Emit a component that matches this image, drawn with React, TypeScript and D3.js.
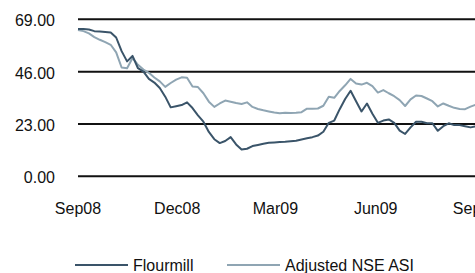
import * as d3 from 'd3'

// dates every 5 days from 1 Sep 2008
const dates: string[] = [
  '2008-09-01', '2008-09-06', '2008-09-11', '2008-09-16', '2008-09-21', '2008-09-26',
  '2008-10-01', '2008-10-06', '2008-10-11', '2008-10-16', '2008-10-21', '2008-10-26', '2008-10-31',
  '2008-11-05', '2008-11-10', '2008-11-15', '2008-11-20', '2008-11-25', '2008-11-30',
  '2008-12-05', '2008-12-10', '2008-12-15', '2008-12-20', '2008-12-25', '2008-12-30',
  '2009-01-04', '2009-01-09', '2009-01-14', '2009-01-19', '2009-01-24', '2009-01-29',
  '2009-02-03', '2009-02-08', '2009-02-13', '2009-02-18', '2009-02-23', '2009-02-28',
  '2009-03-05', '2009-03-10', '2009-03-15', '2009-03-20', '2009-03-25', '2009-03-30',
  '2009-04-04', '2009-04-09', '2009-04-14', '2009-04-19', '2009-04-24', '2009-04-29',
  '2009-05-04', '2009-05-09', '2009-05-14', '2009-05-19', '2009-05-24', '2009-05-29',
  '2009-06-03', '2009-06-08', '2009-06-13', '2009-06-18', '2009-06-23', '2009-06-28',
  '2009-07-03', '2009-07-08', '2009-07-13', '2009-07-18', '2009-07-23', '2009-07-28',
  '2009-08-02', '2009-08-07', '2009-08-12', '2009-08-17', '2009-08-22', '2009-08-27',
  '2009-09-01',
]

const flourmill: number[] = [
  64.7, 64.7, 64.5, 63.8, 63.6, 63.4,
  63.2, 61.0, 55.0, 50.5, 52.9, 47.5, 46.0,
  42.8, 41.2, 38.8, 35.0, 30.3, 30.8,
  31.3, 32.5, 30.0, 26.8, 24.0, 19.5,
  16.3, 14.6, 15.5, 17.2, 14.0, 11.8,
  12.1, 13.3, 13.8, 14.3, 14.7, 14.9,
  15.1, 15.2, 15.4, 15.6, 16.2, 16.7,
  17.2, 17.9, 19.6, 23.5, 24.5, 29.5,
  34.0, 37.6, 33.0, 28.5, 32.0, 27.5,
  23.5, 24.5, 25.0, 23.5, 20.1, 18.6,
  21.5, 24.0, 24.0, 23.3, 23.3, 20.0,
  22.0, 23.3, 22.5, 22.5, 22.0, 21.5,
  22.0,
]

const nseAsi: number[] = [
  64.3, 63.8, 62.8, 61.2, 60.0, 59.0,
  57.8, 54.5, 47.8, 47.5, 52.0, 49.0, 46.9,
  45.5, 43.4, 41.7, 39.3, 41.0, 42.5,
  43.5, 43.3, 39.5, 39.2, 36.5, 32.8,
  30.5, 32.0, 33.3, 32.8, 32.2, 31.8,
  32.5, 30.5, 29.6, 29.0, 28.5, 28.0,
  27.7, 27.9, 27.8, 27.9, 28.2, 29.7,
  29.7, 29.8, 31.0, 35.0, 34.5, 37.5,
  40.0, 42.8, 40.8, 40.3, 41.1, 39.6,
  36.8, 37.9, 36.5, 35.2, 33.5, 30.9,
  33.8, 35.5, 35.3, 34.2, 33.0, 30.7,
  32.0, 31.0, 30.1, 29.6, 29.5, 30.6,
  31.5,
]

const yTicks = [0, 23, 46, 69]
const xTicks = ['2008-09-01', '2008-12-01', '2009-03-01', '2009-06-01', '2009-09-01']

const seriesNames = ['Flourmill', 'Adjusted NSE ASI']
const colors = ['#3a5469', '#8fa5b3']

const W = 475
const H = 273
const font = '"Liberation Sans", Arial, sans-serif'

export default function App() {
  const parse = d3.utcParse('%Y-%m-%d')
  const fmtX = d3.utcFormat('%b%y')

  const x = d3
    .scaleUtc()
    .domain([parse('2008-09-01')!, parse('2009-09-01')!])
    .range([78, 476])
  const y = d3.scaleLinear().domain([0, 69]).range([176.3, 19.3])

  const line = d3
    .line<number>()
    .x((_, i) => x(parse(dates[i])!))
    .y((d) => y(d))

  const series = [flourmill, nseAsi]

  return (
    <svg
      width={W}
      height={H}
      style={{ position: 'absolute', left: 0, top: 0, background: '#fff' }}
      fontFamily={font}
    >
      {/* gridlines + y labels */}
      {yTicks.map((t) => (
        <g key={t}>
          <line x1={78} x2={W} y1={y(t)} y2={y(t)} stroke="#111" strokeWidth={2} />
          <text x={55} y={y(t) + 7} textAnchor="end" fontSize={16} fill="#111">
            {t.toFixed(2)}
          </text>
        </g>
      ))}

      {/* x labels */}
      {xTicks.map((d) => (
        <text key={d} x={x(parse(d)!)} y={214} textAnchor="middle" fontSize={16} fill="#111">
          {fmtX(parse(d)!)}
        </text>
      ))}

      {/* series; light one underneath */}
      {[1, 0].map((k) => (
        <path
          key={k}
          d={line(series[k]) ?? ''}
          fill="none"
          stroke={colors[k]}
          strokeWidth={2}
          strokeLinejoin="round"
        />
      ))}

      {/* legend */}
      {seriesNames.map((name, k) => {
        const lx = k === 0 ? 75 : 227
        return (
          <g key={name}>
            <line x1={lx} x2={lx + 53} y1={265} y2={265} stroke={colors[k]} strokeWidth={2} />
            <text x={lx + 58} y={271} fontSize={16} fill="#111">
              {name}
            </text>
          </g>
        )
      })}
    </svg>
  )
}
